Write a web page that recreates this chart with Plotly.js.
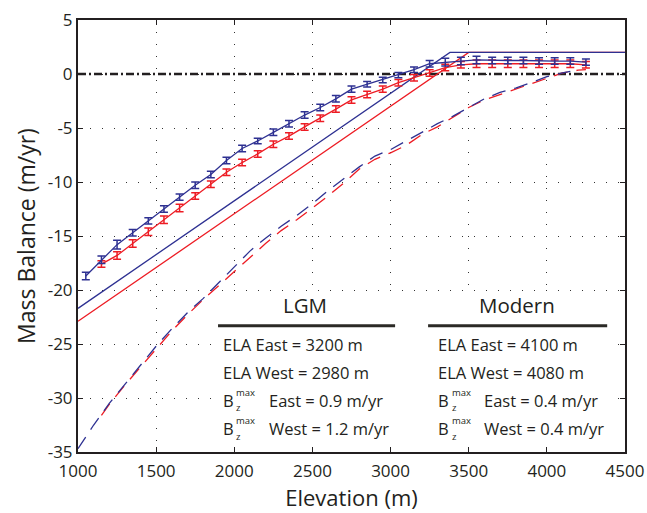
<!DOCTYPE html>
<html><head><meta charset="utf-8">
<script src="https://cdn.plot.ly/plotly-3.0.1.min.js"></script>
<style>html,body{margin:0;padding:0;background:#fff}#c{width:647px;height:513px}</style>
</head><body><div id="c"></div>
<script>
// LGM data with error bars
const lgmEastElev = [1050,1150,1250,1350,1450,1550,1650,1750,1850,1950,2050,2150,2250,2350,2450,2550,2650,2750,2850,2950,3050,3150,3250,3350,3450,3550,3650,3750,3850,3950,4050,4150,4250];
const lgmEastMB = [-18.7,-17.2,-15.8,-14.7,-13.6,-12.5,-11.4,-10.3,-9.3,-8.0,-6.9,-6.2,-5.4,-4.6,-3.8,-3.1,-2.3,-1.4,-0.95,-0.55,-0.1,0.4,0.95,1.1,1.2,1.3,1.25,1.25,1.25,1.2,1.2,1.2,1.1];
const lgmEastErr = [0.35,0.35,0.4,0.3,0.3,0.3,0.3,0.3,0.3,0.3,0.3,0.25,0.3,0.3,0.3,0.3,0.3,0.3,0.25,0.25,0.25,0.25,0.3,0.35,0.35,0.35,0.3,0.3,0.3,0.3,0.3,0.3,0.3];
const lgmWestElev = [1150,1250,1350,1450,1550,1650,1750,1850,1950,2050,2150,2250,2350,2450,2550,2650,2750,2850,2950,3050,3150,3250,3350,3450,3550,3650,3750,3850,3950,4050,4150,4250];
const lgmWestMB = [-17.6,-16.8,-15.7,-14.6,-13.5,-12.4,-11.3,-10.2,-9.1,-8.2,-7.4,-6.5,-5.75,-4.9,-4.1,-3.25,-2.4,-1.9,-1.4,-0.8,-0.35,0.1,0.6,0.85,0.95,0.95,0.95,0.95,0.95,0.95,0.95,0.85];
const lgmWestErr = [0.3,0.35,0.35,0.35,0.35,0.35,0.3,0.3,0.3,0.3,0.3,0.3,0.3,0.3,0.3,0.3,0.3,0.3,0.3,0.3,0.3,0.3,0.3,0.3,0.35,0.35,0.35,0.35,0.35,0.35,0.35,0.3];
// LGM linear profiles
const fitEastElev = [1000,3380,4500];
const fitEastMB = [-21.7,2,2];
const fitWestElev = [1000,3500,4500];
const fitWestMB = [-22.9,2,2];
// Modern profiles (dashed)
const modEastElev = [1000,1100,1200,1300,1400,1500,1600,1700,1800,1900,2000,2100,2200,2300,2400,2500,2600,2700,2800,2900,3000,3100,3200,3300,3400,3500,3600,3700,3800,3900,4000,4100,4150];
const modEastMB = [-34.7,-32.5,-30.5,-28.7,-27.0,-25.2,-23.6,-22.1,-20.8,-19.3,-17.8,-16.4,-15.2,-14.1,-13.1,-12.0,-10.8,-9.7,-8.6,-7.6,-7.0,-6.2,-5.4,-4.6,-3.9,-3.1,-2.3,-1.7,-1.3,-0.8,-0.25,0.1,0.25];
const modWestElev = [1150,1200,1300,1400,1500,1600,1700,1800,1900,2000,2100,2200,2300,2400,2500,2600,2700,2800,2900,3000,3100,3200,3300,3400,3500,3600,3700,3800,3900,4000,4100,4200,4250];
const modWestMB = [-31.6,-30.6,-28.8,-27.1,-25.4,-23.8,-22.3,-20.9,-19.6,-18.3,-17.0,-15.7,-14.5,-13.5,-12.4,-11.3,-10.1,-8.8,-7.9,-7.3,-6.6,-5.6,-4.9,-4.0,-3.1,-2.4,-1.9,-1.4,-0.9,-0.4,0.1,0.35,0.4];
const zeroElev = [1000,4500];
const zeroMB = [0,0];

const xTicks = [1000,1500,2000,2500,3000,3500,4000,4500];
const yTicks = [-35,-30,-25,-20,-15,-10,-5,0,5];

const BLUE = '#2e3192', RED = '#ed1c24', INK = '#231f20';
const FONT = 'Open Sans, sans-serif';

const traces = [
  {x: zeroElev, y: zeroMB, mode:'lines', line:{color:INK, width:2.6, dash:'8px,3px,2px,3px'}},
  {x: modWestElev, y: modWestMB, mode:'lines', line:{color:RED, width:1.3, dash:'14px,9px'}},
  {x: modEastElev, y: modEastMB, mode:'lines', line:{color:BLUE, width:1.3, dash:'14px,9px'}},
  {x: fitWestElev, y: fitWestMB, mode:'lines', line:{color:RED, width:1.3}},
  {x: fitEastElev, y: fitEastMB, mode:'lines', line:{color:BLUE, width:1.3}},
  {x: lgmWestElev, y: lgmWestMB, mode:'lines', line:{color:RED, width:1.3},
   error_y:{type:'data', array:lgmWestErr, visible:true, color:RED, thickness:1.5, width:4}},
  {x: lgmEastElev, y: lgmEastMB, mode:'lines', line:{color:BLUE, width:1.3},
   error_y:{type:'data', array:lgmEastErr, visible:true, color:BLUE, thickness:1.5, width:4}}
];

const ann = [];
function txt(x,y,t,size,anchor,yanchor){ann.push({x:x,y:y,xref:'x',yref:'y',text:t,showarrow:false,borderpad:0,
  xanchor:anchor||'left',yanchor:yanchor||'middle',font:{family:FONT,size:size||16,color:INK}});}
txt(2453,-21.4,'LGM',20.5,'center');
txt(3810,-21.4,'Modern',20.5,'center');
const cols = [1922, 3300];
const rows = [-25.0,-27.6,-30.2,-32.8];
const colText = [
  ['ELA East = 3200 m','ELA West = 2980 m','East = 0.9 m/yr','West = 1.2 m/yr'],
  ['ELA East = 4100 m','ELA West = 4080 m','East = 0.4 m/yr','West = 0.4 m/yr']
];
cols.forEach((cx,ci)=>{
  rows.forEach((ry,ri)=>{
    if(ri<2){ txt(cx,ry,colText[ci][ri],16.5); }
    else {
      txt(cx,ry,'B',16.5);
      txt(cx+85,ry+0.03,'max',9.5,'left','bottom');
      txt(cx+85,ry-0.03,'z',9.5,'left','top');
      txt(cx+292,ry,colText[ci][ri],16.5);
    }
  });
});

const shapes = [
  {type:'rect', xref:'x', yref:'y', x0:1864, x1:4437, y0:-34.5, y1:-20.35, fillcolor:'#fff', line:{width:0}, layer:'between'},
  {type:'line', xref:'x', yref:'y', x0:1896, x1:3029, y0:-23.3, y1:-23.3, line:{color:'#2b2a26', width:3}},
  {type:'line', xref:'x', yref:'y', x0:3240, x1:4386, y0:-23.3, y1:-23.3, line:{color:'#2b2a26', width:3}}
];

const axisCommon = {showline:true, linecolor:INK, linewidth:2, mirror:'ticks', ticks:'inside', ticklen:5, tickwidth:1, tickcolor:INK,
  showgrid:true, gridcolor:'#333', gridwidth:1, griddash:'1px,11px', zeroline:false, tickfont:{family:FONT, size:17, color:INK}};

const layout = {
  width:647, height:513, margin:{l:78, r:22, t:20, b:61},
  paper_bgcolor:'#fff', plot_bgcolor:'#fff', showlegend:false,
  xaxis: Object.assign({}, axisCommon, {range:[1000,4500], tickvals:xTicks, ticktext:xTicks.map(String), ticklabelstandoff:3,
    title:{text:'Elevation (m)', font:{family:FONT, size:22, color:INK}, standoff:6}}),
  yaxis: Object.assign({}, axisCommon, {range:[-35,5], tickvals:yTicks, ticktext:yTicks.map(String),
    title:{text:'Mass Balance (m/yr)', font:{family:FONT, size:23, color:INK}, standoff:6}}),
  annotations: ann, shapes: shapes
};
Plotly.newPlot('c', traces, layout, {displayModeBar:false, staticPlot:true});
</script></body></html>
